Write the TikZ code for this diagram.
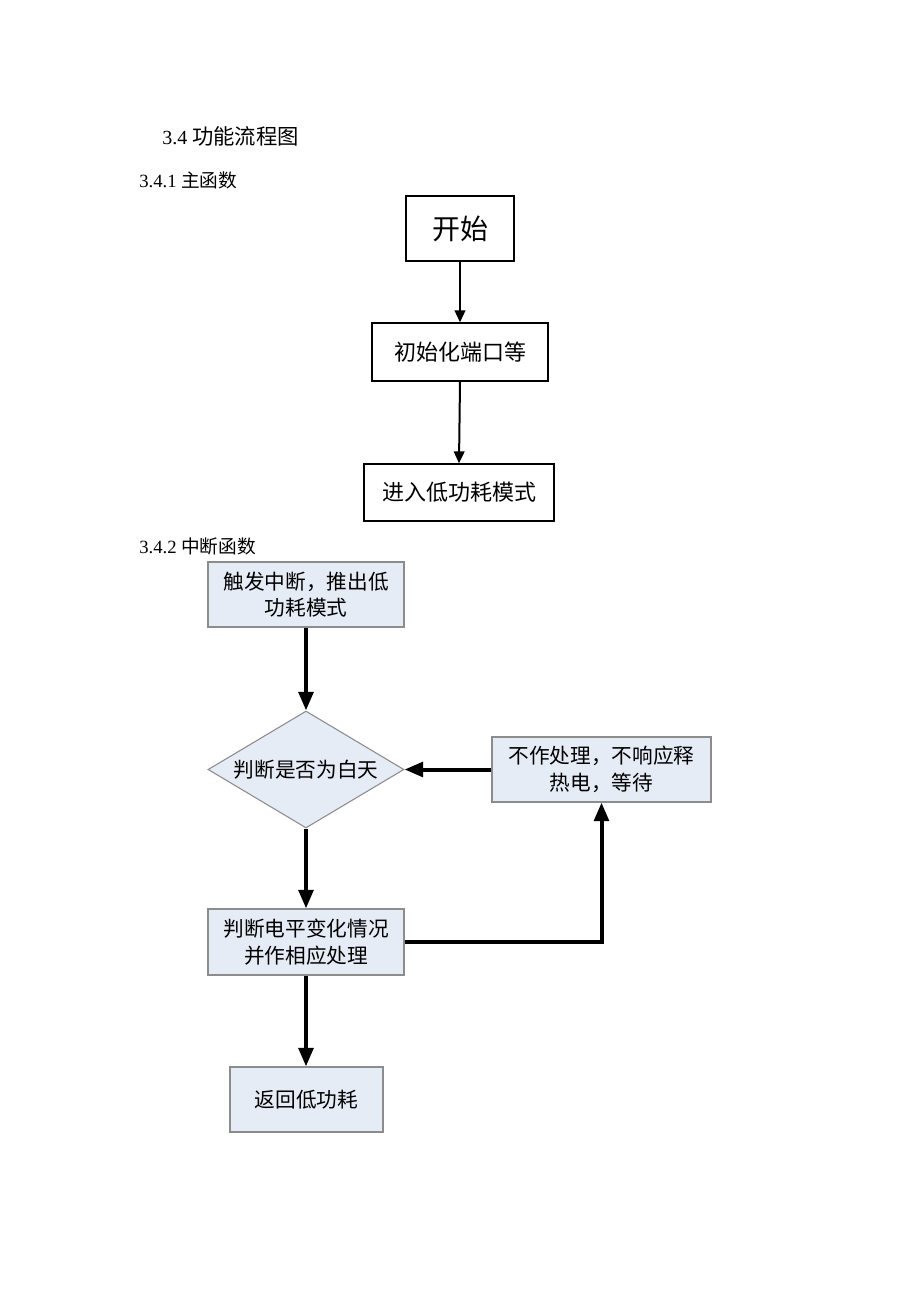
\documentclass[tikz,border=0pt]{standalone}
\usepackage{fontspec}
\setmainfont{Liberation Serif}
\newfontfamily\cjk{Noto Sans CJK SC}
\usetikzlibrary{arrows.meta,shapes.geometric}
\definecolor{boxfill}{RGB}{230,236,246}
\definecolor{boxline}{RGB}{140,140,140}
\begin{document}
\begin{tikzpicture}[x=0.75pt,y=-0.75pt,
  plainbox/.style={draw=black, line width=1pt, fill=white, inner sep=0pt, align=center,
    font=\cjk\fontsize{16.5}{20}\selectfont},
  bluebox/.style={draw=boxline, line width=0.8pt, fill=boxfill, inner sep=0pt, align=center,
    font=\cjk\fontsize{15.5}{20}\selectfont},
  thinarrow/.style={line width=1.5pt, -{Triangle[length=9pt,width=8pt]}},
  thickarrow/.style={line width=3pt, -{Triangle[length=14pt,width=11pt]}},
  heading/.style={anchor=base west, inner sep=0pt}]
\useasboundingbox[fill=white] (0,0) rectangle (920,1302);

\node[heading, font=\fontsize{15}{18}\selectfont] (title) at (162,145) {3.4 {\cjk\fontsize{16}{18}\selectfont 功能流程图}};
\node[heading, font=\fontsize{14}{16}\selectfont] (sub1) at (139,187) {3.4.1 {\cjk 主函数}};
\node[heading, font=\fontsize{14}{16}\selectfont] (sub2) at (139,553) {3.4.2 {\cjk 中断函数}};

% main function
\node[plainbox, minimum width=108*0.75pt, minimum height=65*0.75pt, font=\cjk\fontsize{21}{24}\selectfont] (start) at (460,228.5) {开始};
\node[plainbox, minimum width=176*0.75pt, minimum height=58*0.75pt] (init) at (460,352) {初始化端口等};
\node[plainbox, minimum width=190*0.75pt, minimum height=57*0.75pt] (enter) at (459,492.5) {进入低功耗模式};
\draw[thinarrow] (start.south) -- (init.north);
\draw[thinarrow] (init.south) -- (enter.north);

% interrupt function
\node[bluebox, minimum width=196*0.75pt, minimum height=65*0.75pt] (trig) at (306,594.5) {触发中断，推出低\\功耗模式};
\node[bluebox, diamond, minimum width=196*0.75pt, minimum height=117*0.75pt, shape aspect=1.675] (day) at (306,769.5) {判断是否为白天};
\node[bluebox, minimum width=219*0.75pt, minimum height=65*0.75pt] (wait) at (601.5,769.5) {不作处理，不响应释\\热电，等待};
\node[bluebox, minimum width=196*0.75pt, minimum height=66*0.75pt] (level) at (306,942) {判断电平变化情况\\并作相应处理};
\node[bluebox, minimum width=153*0.75pt, minimum height=65*0.75pt] (ret) at (306.5,1099.5) {返回低功耗};

\draw[thickarrow] (trig.south) -- (day.north);
\draw[thickarrow] (wait.west) -- (day.east);
\draw[thickarrow] (day.south) -- (level.north);
\draw[thickarrow] (level.east) -| (wait.south);
\draw[thickarrow] (level.south) -- (ret.north -| level.south);
\end{tikzpicture}
\end{document}
